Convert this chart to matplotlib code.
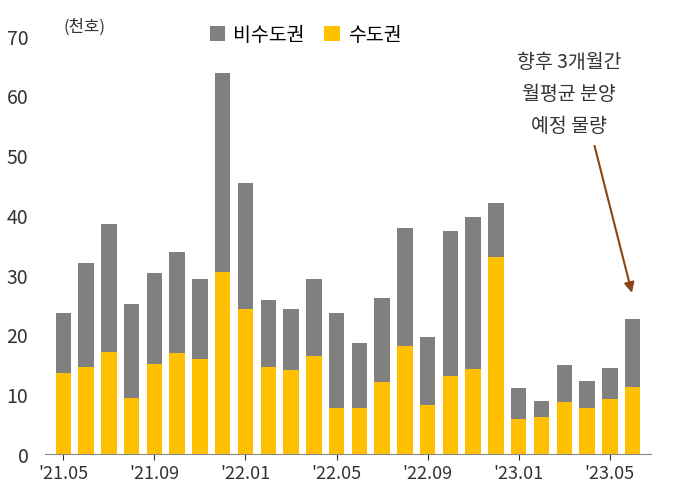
import matplotlib.pyplot as plt
import numpy as np

plt.rcParams['font.family'] = ['Noto Sans CJK KR', 'Noto Sans CJK JP', 'Noto Sans CJK SC', 'DejaVu Sans']

months = ["'21.05","'21.06","'21.07","'21.08","'21.09","'21.10","'21.11","'21.12",
          "'22.01","'22.02","'22.03","'22.04","'22.05","'22.06","'22.07","'22.08",
          "'22.09","'22.10","'22.11","'22.12","'23.01","'23.02","'23.03","'23.04",
          "'23.05","향후"]
total = [23.5,32,38.5,25,30.3,33.7,29.3,63.7,45.3,25.7,24.3,29.3,23.5,18.5,26,37.8,
         19.5,37.3,39.6,42,11,8.8,14.8,12.2,14.4,22.6]
capital = [13.5,14.5,17,9.3,15,16.8,15.8,30.5,24.3,14.6,14,16.3,7.7,7.7,12,18,
           8.2,13,14.2,33,5.8,6.2,8.6,7.7,9.1,11.2]
noncap = [t - c for t, c in zip(total, capital)]
tick_idx = [0,4,8,12,16,20,24]

fig = plt.figure(figsize=(6.73,5.02), dpi=100)
ax = fig.add_axes([0.067,0.094,0.90,0.833])
x = np.arange(len(months))
ax.bar(x, capital, width=0.68, color='#FFC000', label='수도권')
ax.bar(x, noncap, width=0.68, bottom=capital, color='#808080', label='비수도권')
ax.set_ylim(0,70)
ax.set_xlim(-0.8, len(months)-0.2)
ax.set_yticks(range(0,71,10))
ax.set_xticks([x[i] for i in tick_idx])
ax.set_xticklabels([months[i] for i in tick_idx])
ax.tick_params(axis='y', length=0, labelsize=14, colors='#333333', pad=12)
ax.tick_params(axis='x', length=4, labelsize=13, colors='#333333')
for s in ['top','right','left']:
    ax.spines[s].set_visible(False)
ax.spines['bottom'].set_color('#888888')
ax.text(0.0, 71.5, '(천호)', fontsize=12, color='#333333', ha='left', va='center')
h, l = ax.get_legend_handles_labels()
ax.legend(h[::-1], l[::-1], loc='upper center', bbox_to_anchor=(0.43,1.07), ncol=2,
          frameon=False, fontsize=14, handlelength=0.8, handleheight=0.8, columnspacing=1.0,
          handletextpad=0.4)
ax.text(22.2, 67.5, '향후 3개월간\n월평균 분양\n예정 물량', fontsize=14, color='#333333',
        ha='center', va='top', linespacing=1.7)
ax.annotate('', xy=(25, 26.5), xytext=(23.3, 52),
            arrowprops=dict(arrowstyle='-|>', color='#8B4513', lw=1.5, mutation_scale=15))
fig.savefig('out.png', dpi=100)
